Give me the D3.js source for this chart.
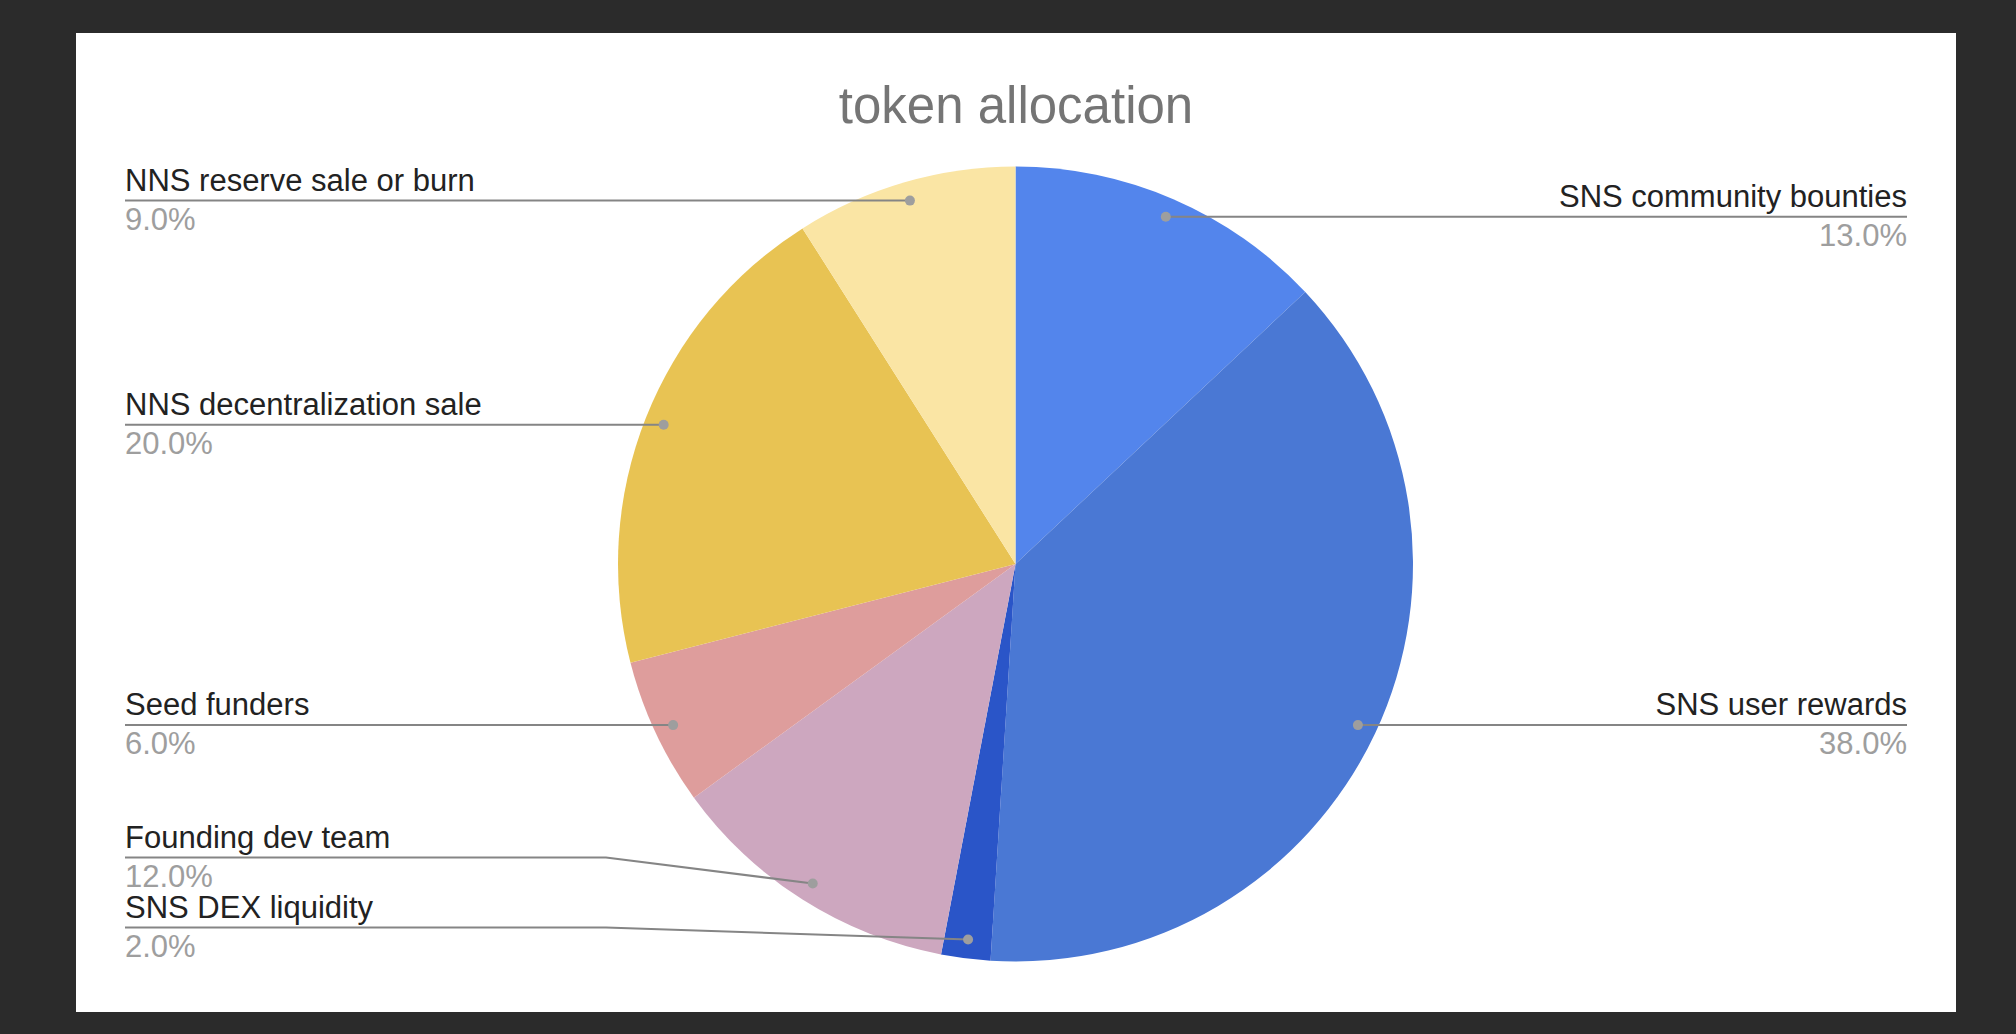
<!DOCTYPE html>
<html>
<head>
<meta charset="utf-8">
<script src="https://cdn.jsdelivr.net/npm/d3@7"></script>
<style>
  body { margin: 0; background: #2b2b2b; }
  svg { display: block; }
  text { font-family: 'Liberation Sans', Arial, sans-serif; }
</style>
</head>
<body>
<svg id="chart"></svg>
<script>
// slices, clockwise from 12 o'clock
const categories = ["SNS community bounties", "SNS user rewards", "SNS DEX liquidity",
    "Founding dev team", "Seed funders", "NNS decentralization sale", "NNS reserve sale or burn"];
const shares = [13, 38, 2, 12, 6, 20, 9];
const sliceColors = ["#5385ec", "#4a78d4", "#2a55c8", "#cda7bf", "#de9d9c", "#e8c353", "#fae5a4"];

const width = 2016, height = 1034;
const cx = 1015.5, cy = 564, radius = 397.5;
const leftX = 125, rightX = 1907;
const labelGap = 70;

const svg = d3.select("#chart").attr("width", width).attr("height", height);

// white chart panel
svg.append("rect")
    .attr("x", 76).attr("y", 33)
    .attr("width", 1880).attr("height", 979)
    .attr("fill", "#ffffff");

svg.append("text")
    .attr("x", 1016).attr("y", 123)
    .attr("text-anchor", "middle")
    .attr("font-size", "51px")
    .attr("fill", "#757575")
    .text("token allocation");

const pie = d3.pie().sort(null).value(d => d);
const arcs = pie(shares);

const arc = d3.arc().innerRadius(0).outerRadius(radius);
const dotArc = d3.arc().innerRadius(radius * 0.952).outerRadius(radius * 0.952);

const g = svg.append("g").attr("transform", `translate(${cx},${cy})`);

g.selectAll("path.slice")
    .data(arcs)
    .enter()
    .append("path")
    .attr("class", "slice")
    .attr("d", arc)
    .attr("fill", (d, i) => sliceColors[i]);

// label layout: one label per slice, pushed apart on each side
const labels = arcs.map((d, i) => {
    const c = dotArc.centroid(d);
    const mid = (d.startAngle + d.endAngle) / 2;
    return {
        name: categories[i],
        pct: d3.format(".1f")(shares[i] / d3.sum(shares) * 100) + "%",
        dx: cx + c[0], dy: cy + c[1],
        right: mid < Math.PI,
        y: cy + c[1]
    };
});

const maxY = cy + radius - 34;
[true, false].forEach(side => {
    const group = labels.filter(l => l.right === side).sort((a, b) => b.dy - a.dy);
    let limit = maxY;
    group.forEach(l => {
        l.y = Math.min(l.dy, limit);
        limit = l.y - labelGap;
    });
});

const lg = svg.append("g");

lg.selectAll("path.leader")
    .data(labels)
    .enter()
    .append("path")
    .attr("class", "leader")
    .attr("fill", "none")
    .attr("stroke", "#858585")
    .attr("stroke-width", 2)
    .attr("d", l => {
        const p = d3.path();
        const endX = l.right ? rightX : leftX;
        const elbow = l.right ? cx + radius + 12 : cx - radius - 12;
        p.moveTo(endX, l.y);
        p.lineTo(elbow, l.y);
        p.lineTo(l.dx, l.dy);
        return p.toString();
    });

lg.selectAll("circle")
    .data(labels)
    .enter()
    .append("circle")
    .attr("cx", l => l.dx)
    .attr("cy", l => l.dy)
    .attr("r", 5)
    .attr("fill", "#9e9e9e");

lg.selectAll("text.name")
    .data(labels)
    .enter()
    .append("text")
    .attr("class", "name")
    .attr("x", l => l.right ? rightX : leftX)
    .attr("y", l => l.y - 10)
    .attr("text-anchor", l => l.right ? "end" : "start")
    .attr("font-size", "31px")
    .attr("fill", "#222222")
    .text(l => l.name);

lg.selectAll("text.pct")
    .data(labels)
    .enter()
    .append("text")
    .attr("class", "pct")
    .attr("x", l => l.right ? rightX : leftX)
    .attr("y", l => l.y + 29)
    .attr("text-anchor", l => l.right ? "end" : "start")
    .attr("font-size", "31px")
    .attr("fill", "#9e9e9e")
    .text(l => l.pct);
</script>
</body>
</html>
